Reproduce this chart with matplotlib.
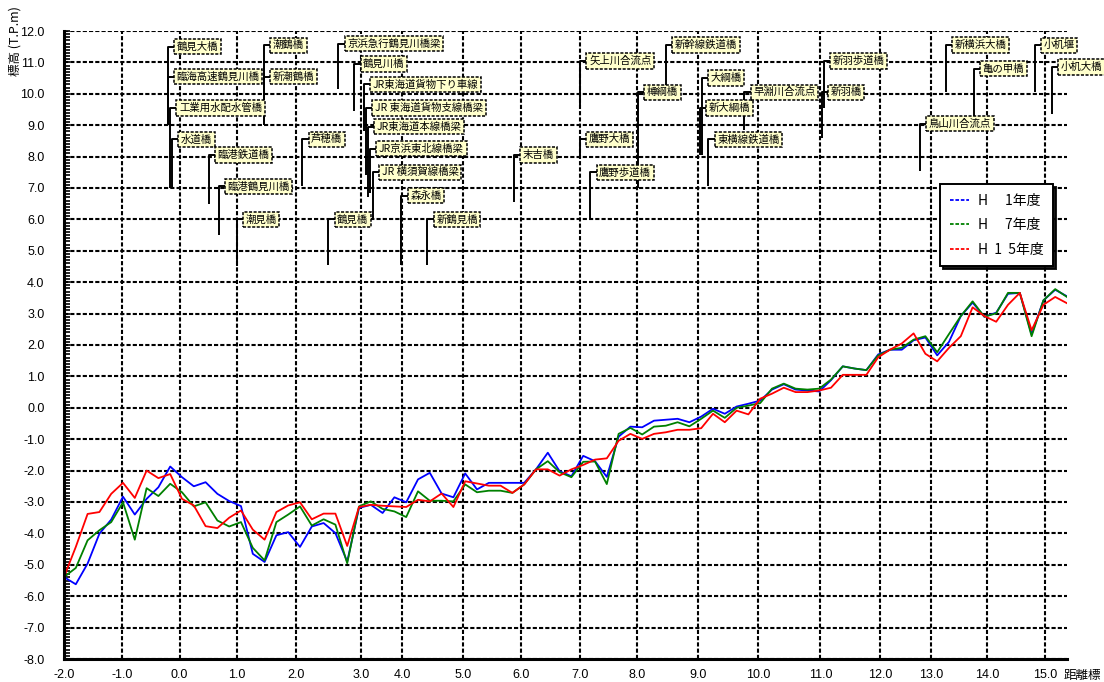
import matplotlib
matplotlib.use("Agg")
import matplotlib.pyplot as plt
from matplotlib.lines import Line2D
import numpy as np

plt.rcParams['font.family'] = ['Liberation Sans Narrow', 'Liberation Sans', 'Noto Sans CJK JP', 'DejaVu Sans']
JP = ['Noto Sans CJK JP', 'DejaVu Sans']

# km posts along the river and where they fall in real distance (km from the -2.0 post)
km_posts = [-2.0, -1.0, 0.0, 1.0, 2.0, 3.0, 4.0, 5.0, 6.0, 7.0, 8.0,
            9.0, 10.0, 11.0, 12.0, 13.0, 14.0, 15.0]
post_dist = [0.00, 0.98, 1.96, 2.93, 3.93, 5.03, 5.73, 6.76, 7.75, 8.74, 9.71,
             10.75, 11.77, 12.82, 13.83, 14.69, 15.64, 16.63]

# riverbed elevation (T.P. m), one section every 200 m
dist = np.round(np.arange(86) * 0.2, 1)

h01 = [-5.39, -5.62, -4.96, -4.01, -3.56, -2.83, -3.40, -2.90, -2.53, -1.87,
       -2.21, -2.50, -2.37, -2.74, -2.97, -3.13, -4.65, -4.91, -4.06, -3.96,
       -4.43, -3.78, -3.67, -3.99, -4.90, -3.19, -3.09, -3.35, -2.85, -3.01,
       -2.28, -2.07, -2.73, -2.85, -2.09, -2.60, -2.39, -2.39, -2.39, -2.39,
       -1.96, -1.43, -2.02, -2.18, -1.53, -1.70, -2.20, -0.92, -0.60, -0.62,
       -0.41, -0.38, -0.35, -0.46, -0.28, -0.03, -0.19, 0.04, 0.13, 0.23,
       0.58, 0.75, 0.58, 0.55, 0.52, 0.88, 1.32, 1.25, 1.20, 1.70,
       1.85, 1.85, 2.15, 2.24, 1.67, 2.10, 2.92, 3.35, 2.90, 3.03,
       3.63, 3.66, 2.34, 3.42, 3.76, 3.55]

h07 = [-5.39, -5.10, -4.22, -3.90, -3.64, -3.01, -4.20, -2.56, -2.81, -2.42,
       -2.69, -3.14, -3.01, -3.59, -3.78, -3.64, -4.46, -4.86, -3.64, -3.40,
       -3.14, -3.75, -3.55, -3.72, -4.95, -3.14, -2.98, -3.22, -3.30, -3.48,
       -2.66, -2.96, -2.96, -2.98, -2.44, -2.69, -2.64, -2.64, -2.71, -2.44,
       -1.96, -1.70, -2.05, -2.21, -1.72, -1.71, -2.43, -0.83, -0.64, -0.85,
       -0.60, -0.57, -0.46, -0.59, -0.35, -0.09, -0.32, 0.00, 0.07, 0.15,
       0.61, 0.77, 0.61, 0.58, 0.61, 0.90, 1.32, 1.25, 1.20, 1.67,
       1.85, 1.91, 2.17, 2.28, 1.77, 2.35, 2.92, 3.39, 2.90, 3.01,
       3.66, 3.66, 2.28, 3.42, 3.78, 3.53]

h15 = [-5.39, -4.43, -3.38, -3.32, -2.74, -2.39, -2.87, -2.00, -2.24, -2.11,
       -2.90, -3.11, -3.77, -3.83, -3.50, -3.27, -3.88, -4.20, -3.32, -3.11,
       -3.01, -3.55, -3.37, -3.37, -4.40, -3.16, -3.09, -3.12, -3.14, -3.16,
       -2.93, -2.98, -2.73, -3.16, -2.34, -2.41, -2.48, -2.48, -2.71, -2.44,
       -1.96, -1.96, -2.16, -1.96, -1.82, -1.65, -1.61, -1.05, -0.83, -0.99,
       -0.83, -0.78, -0.70, -0.70, -0.65, -0.19, -0.46, -0.09, -0.21, 0.29,
       0.45, 0.64, 0.50, 0.50, 0.55, 0.64, 1.05, 1.05, 1.05, 1.61,
       1.85, 2.05, 2.37, 1.72, 1.48, 1.91, 2.28, 3.20, 2.92, 2.74,
       3.28, 3.66, 2.47, 3.28, 3.53, 3.33]

series_names = ['H\u3000 1年度', 'H\u3000 7年度', 'H  1  5年度']
series_colors = ['#0000FF', '#008000', '#FF0000']

# bridges / confluences: name, location (km), leader bottom (m), label height (m)
bridges = [
    ('鶴見大橋', 1.76, 9.0, 11.5),
    ('臨海高速鶴見川橋', 1.76, 9.0, 10.55),
    ('工業用水配水管橋', 1.80, 7.0, 9.55),
    ('水道橋', 1.83, 7.0, 8.55),
    ('臨港鉄道橋', 2.45, 6.5, 8.05),
    ('臨港鶴見川橋', 2.62, 5.5, 7.05),
    ('潮見橋', 2.93, 4.5, 6.0),
    ('潮鶴橋', 3.39, 9.0, 11.55),
    ('新潮鶴橋', 3.39, 9.0, 10.55),
    ('芦穂橋', 4.04, 7.05, 8.55),
    ('鶴見橋', 4.48, 4.55, 6.0),
    ('京浜急行鶴見川橋梁', 4.65, 10.15, 11.6),
    ('鶴見川橋', 4.92, 9.45, 10.95),
    ('JR東海道貨物下り車線', 5.08, 8.8, 10.3),
    ('JR 東海道貨物支線橋梁', 5.12, 7.4, 9.55),
    ('JR東海道本線橋梁', 5.15, 6.7, 8.95),
    ('JR京浜東北線橋梁', 5.19, 6.85, 8.25),
    ('JR 横須賀線橋梁', 5.24, 6.0, 7.5),
    ('森永橋', 5.72, 4.55, 6.75),
    ('新鶴見橋', 6.16, 4.55, 6.0),
    ('末吉橋', 7.63, 6.55, 8.05),
    ('矢上川合流点', 8.75, 9.5, 11.05),
    ('鷹野大橋', 8.75, 8.0, 8.55),
    ('鷹野歩道橋', 8.92, 6.0, 7.5),
    ('樽綱橋', 9.73, 7.0, 10.05),
    ('新幹線鉄道橋', 10.20, 10.1, 11.55),
    ('大綱橋', 10.81, 8.05, 10.5),
    ('新大綱橋', 10.78, 8.05, 9.55),
    ('東横線鉄道橋', 10.92, 7.05, 8.55),
    ('早淵川合流点', 11.53, 8.85, 10.05),
    ('新羽橋', 12.84, 8.6, 10.05),
    ('新羽歩道橋', 12.88, 9.55, 11.05),
    ('鳥山川合流点', 14.51, 7.55, 9.05),
    ('新横浜大橋', 14.95, 10.05, 11.55),
    ('亀の甲橋', 15.42, 9.3, 10.8),
    ('小机堰', 16.45, 10.05, 11.55),
    ('小机大橋', 16.75, 9.35, 10.85),
]

fig = plt.figure(figsize=(11.04, 6.82), dpi=100)
ax = fig.add_axes([64 / 1104, 23 / 682, 1003 / 1104, 628 / 682])

for h, c in zip([h01, h07, h15], series_colors):
    ax.plot(dist, h, color=c, lw=1.3, zorder=3)

# leaders and label boxes
for name, x, y0, y1 in bridges:
    ax.plot([x, x, x + 0.14], [y0, y1, y1], color='black', lw=1.4,
            zorder=4, clip_on=False, solid_capstyle='butt')
    ax.text(x + 0.15, y1, name, fontsize=7.5, ha='left', va='center',
            family=JP, zorder=5, clip_on=False,
            bbox=dict(boxstyle='square,pad=0.25', fc='#FFFFCC', ec='black',
                      ls=(0, (2, 1)), lw=1.1))

ax.set_xlim(0, 17.0)
ax.set_ylim(-8, 12)
ax.set_xticks(post_dist)
ax.set_xticklabels([f'{v:.1f}' for v in km_posts])
ax.set_yticks(np.arange(-8, 13, 1))
ax.set_yticklabels([f'{v:.1f}' for v in np.arange(-8, 13, 1)])
ax.set_yticks(np.arange(-8, 12.01, 0.1), minor=True)
ax.tick_params(axis='x', length=0, pad=7, labelsize=9)
ax.tick_params(axis='y', which='both', direction='in', length=4, width=1.2,
               pad=14, labelsize=9)

ax.grid(True, color='black', ls=(0, (2, 1)), lw=1.5, zorder=1)
for side in ['top', 'right']:
    ax.spines[side].set_visible(False)
for side in ['left', 'bottom']:
    ax.spines[side].set_linewidth(2.2)
    ax.spines[side].set_zorder(6)

fig.text(15 / 1104, 1 - 76 / 682, '標高 (T.P.m)', rotation=90, ha='center',
         va='bottom', fontsize=9, family=JP)
fig.text(1064 / 1104, 1 - 676 / 682, '距離標', ha='left', va='center',
         fontsize=9, family=JP)

handles = [Line2D([], [], color=c, lw=1.3, ls=(0, (2, 1))) for c in series_colors]
leg = ax.legend(handles, series_names, loc='upper left',
                bbox_to_anchor=(940 / 1104, 1 - 184 / 682),
                bbox_transform=fig.transFigure, borderaxespad=0,
                frameon=True, fancybox=False,
                shadow={'color': 'black', 'alpha': 0.9}, edgecolor='black',
                framealpha=1, prop={'family': JP, 'size': 10},
                handlelength=1.4, handletextpad=0.6, borderpad=0.7,
                labelspacing=0.75)
leg.get_frame().set_linewidth(1.4)
leg.set_zorder(7)

fig.savefig('out.png', dpi=100, facecolor='white')
